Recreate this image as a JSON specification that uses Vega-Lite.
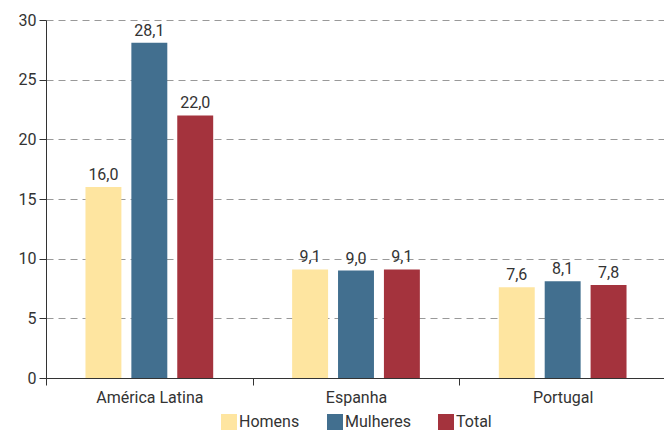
{
  "$schema": "https://vega.github.io/schema/vega-lite/v6.json",
  "width": 620,
  "height": 358,
  "autosize": "none",
  "padding": {"left": 46, "top": 20, "right": -2, "bottom": 54},
  "background": "white",
  "config": {
    "locale": {"number": {"decimal": ",", "thousands": ".", "grouping": [3], "currency": ["", " €"]}},
    "font": "Liberation Sans Narrow, Roboto, sans-serif",
    "view": {"stroke": null}
  },
  "data": {
    "values": [
      {"regiao": "América Latina", "grupo": "Homens", "valor": 16.0},
      {"regiao": "América Latina", "grupo": "Mulheres", "valor": 28.1},
      {"regiao": "América Latina", "grupo": "Total", "valor": 22.0},
      {"regiao": "Espanha", "grupo": "Homens", "valor": 9.1},
      {"regiao": "Espanha", "grupo": "Mulheres", "valor": 9.0},
      {"regiao": "Espanha", "grupo": "Total", "valor": 9.1},
      {"regiao": "Portugal", "grupo": "Homens", "valor": 7.6},
      {"regiao": "Portugal", "grupo": "Mulheres", "valor": 8.1},
      {"regiao": "Portugal", "grupo": "Total", "valor": 7.8}
    ]
  },
  "encoding": {
    "x": {
      "field": "regiao", "type": "nominal", "sort": null,
      "scale": {"paddingInner": 0, "paddingOuter": 0},
      "axis": {
        "title": null, "labelAngle": 0, "tickBand": "extent",
        "labelFontSize": 16, "labelColor": "#333", "labelPadding": 4,
        "domainColor": "#333", "tickColor": "#333", "tickSize": 7,
        "grid": false
      }
    },
    "xOffset": {
      "field": "grupo", "type": "nominal", "sort": ["Homens", "Mulheres", "Total"],
      "scale": {"paddingInner": 0.217, "paddingOuter": 0.86}
    },
    "y": {
      "field": "valor", "type": "quantitative",
      "scale": {"domain": [0, 30]},
      "axis": {
        "title": null, "values": [0, 5, 10, 15, 20, 25, 30], "format": "d",
        "labelFontSize": 16, "labelColor": "#333", "labelPadding": 3,
        "domainColor": "#333", "tickColor": "#333", "tickSize": 7,
        "grid": true, "gridColor": "#999", "gridDash": [7, 5], "gridWidth": 1
      }
    }
  },
  "layer": [
    {
      "mark": {"type": "bar"},
      "encoding": {
        "color": {
          "field": "grupo", "type": "nominal", "sort": ["Homens", "Mulheres", "Total"],
          "scale": {"domain": ["Homens", "Mulheres", "Total"], "range": ["#FEE5A0", "#426F8F", "#A4333D"]},
          "legend": {
            "title": null, "orient": "none", "direction": "horizontal",
            "legendX": 175, "legendY": 394,
            "symbolType": "square", "symbolSize": 256, "symbolStrokeWidth": 0,
            "labelFontSize": 16, "labelColor": "#333", "labelOffset": 2,
            "columnPadding": 27
          }
        }
      }
    },
    {
      "mark": {"type": "text", "dy": -12, "fontSize": 16, "color": "#333"},
      "encoding": {
        "text": {"field": "valor", "type": "quantitative", "format": ".1f"}
      }
    }
  ]
}
